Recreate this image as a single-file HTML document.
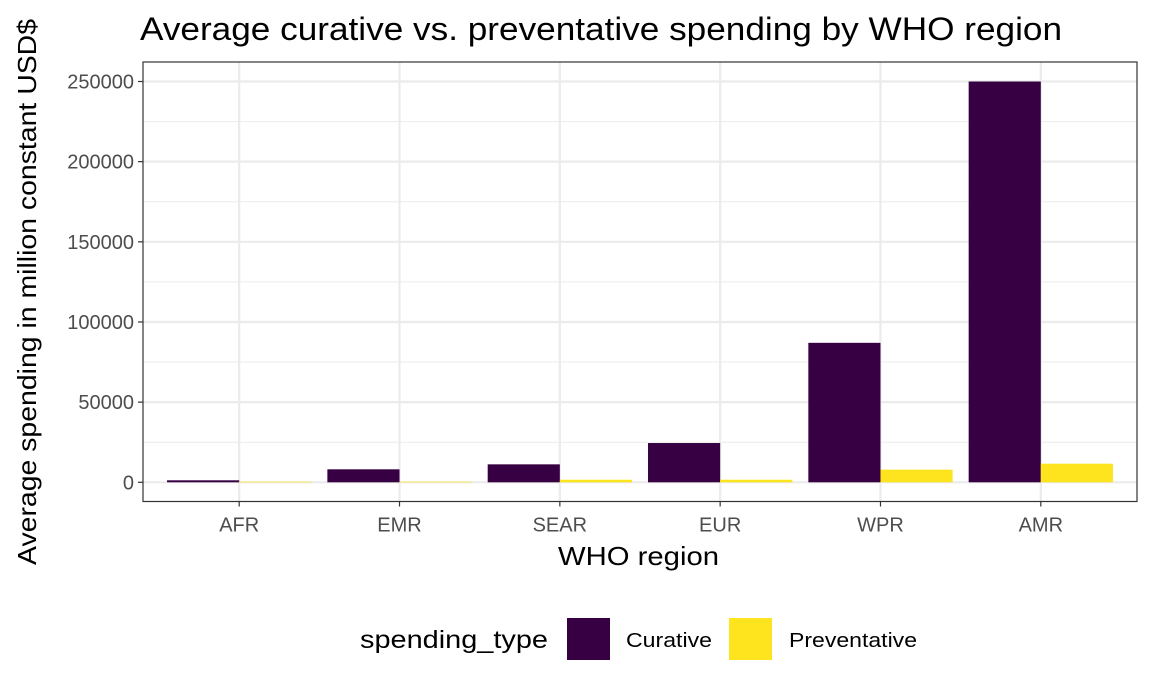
<!DOCTYPE html>
<html><head><meta charset="utf-8"><style>
body{margin:0;background:#fff;}
svg text{font-family:"Liberation Sans",Arial,sans-serif;}
</style></head><body>
<svg id="chart" width="1152" height="691">
<text x="140" y="40" font-size="32" fill="#000" textLength="922" lengthAdjust="spacingAndGlyphs">Average curative vs. preventative spending by WHO region</text>
<g id="grid"></g>
<g id="bars"></g>
<rect x="143" y="62" width="994" height="439.5" fill="none" stroke="#333" stroke-width="1.2"/>
<g id="axes"></g>
<text x="558" y="565" font-size="26" textLength="161" lengthAdjust="spacingAndGlyphs">WHO region</text>
<text transform="translate(36,565) rotate(-90)" font-size="26" textLength="546" lengthAdjust="spacingAndGlyphs">Average spending in million constant USD$</text>
<g>
<text x="360" y="648" font-size="25" textLength="188" lengthAdjust="spacingAndGlyphs">spending_type</text>
<rect x="567" y="618" width="43" height="42" fill="#360042"/>
<text x="626" y="647" font-size="20" textLength="86" lengthAdjust="spacingAndGlyphs">Curative</text>
<rect x="729" y="618" width="43" height="42" fill="#FDE41F"/>
<text x="789" y="647" font-size="20" textLength="128" lengthAdjust="spacingAndGlyphs">Preventative</text>
</g>
</svg>
<script>
const categories=["AFR","EMR","SEAR","EUR","WPR","AMR"];
const curative=[1250,8100,11200,24500,87000,250000];
const preventative=[400,400,1600,1600,7900,11600];
const yTicks=[0,50000,100000,150000,200000,250000];
const NS="http://www.w3.org/2000/svg";
const L=143,R=1137,T=62,B=501.5;
const y0=482.3,yScale=(482.3-81.5)/250000;
const y=v=>y0-v*yScale;
const step=(R-L)/(categories.length+0.2);
const x=i=>L+step*(0.6+i);
const bw=step*0.45;
function mk(tag,attrs,parent){const e=document.createElementNS(NS,tag);for(const k in attrs)e.setAttribute(k,attrs[k]);parent.appendChild(e);return e;}
const grid=document.getElementById('grid'),bars=document.getElementById('bars'),axes=document.getElementById('axes');
mk('rect',{x:L,y:T,width:R-L,height:B-T,fill:'#fff'},grid);
for(let i=0;i<yTicks.length-1;i++){const m=(yTicks[i]+yTicks[i+1])/2;
 const l=mk('line',{x1:L,x2:R,y1:y(m),y2:y(m),stroke:'#ebebeb','stroke-width':1},grid);
 
 }
yTicks.forEach(t=>{
 const l=mk('line',{x1:L,x2:R,y1:y(t),y2:y(t),stroke:'#ebebeb','stroke-width':2.2},grid);
 
 
 const tk=mk('line',{x1:L-5,x2:L,y1:y(t),y2:y(t),stroke:'#333','stroke-width':1.2},axes);
 
 
 const tx=mk('text',{x:L-9,y:y(t)+7,'font-size':20,fill:'#4d4d4d','text-anchor':'end'},axes);
 tx.textContent=t;
 
 
});
categories.forEach((c,i)=>{
 const g=mk('line',{x1:x(i),x2:x(i),y1:T,y2:B,stroke:'#ebebeb','stroke-width':2.2},grid);
 
 
 const b1=mk('rect',{x:x(i)-bw,y:y(curative[i]),width:bw,height:y0-y(curative[i]),fill:'#360042'},bars);
 
 
 const b2=mk('rect',{x:x(i),y:y(preventative[i]),width:bw,height:y0-y(preventative[i]),fill:'#FDE41F'},bars);
 
 
 const tk=mk('line',{x1:x(i),x2:x(i),y1:B,y2:B+5,stroke:'#333','stroke-width':1.2},axes);
 
 
 const tx=mk('text',{x:x(i),y:B+30,'font-size':20,fill:'#4d4d4d','text-anchor':'middle'},axes);
 tx.textContent=c;
 
 
});
</script>
</body></html>
